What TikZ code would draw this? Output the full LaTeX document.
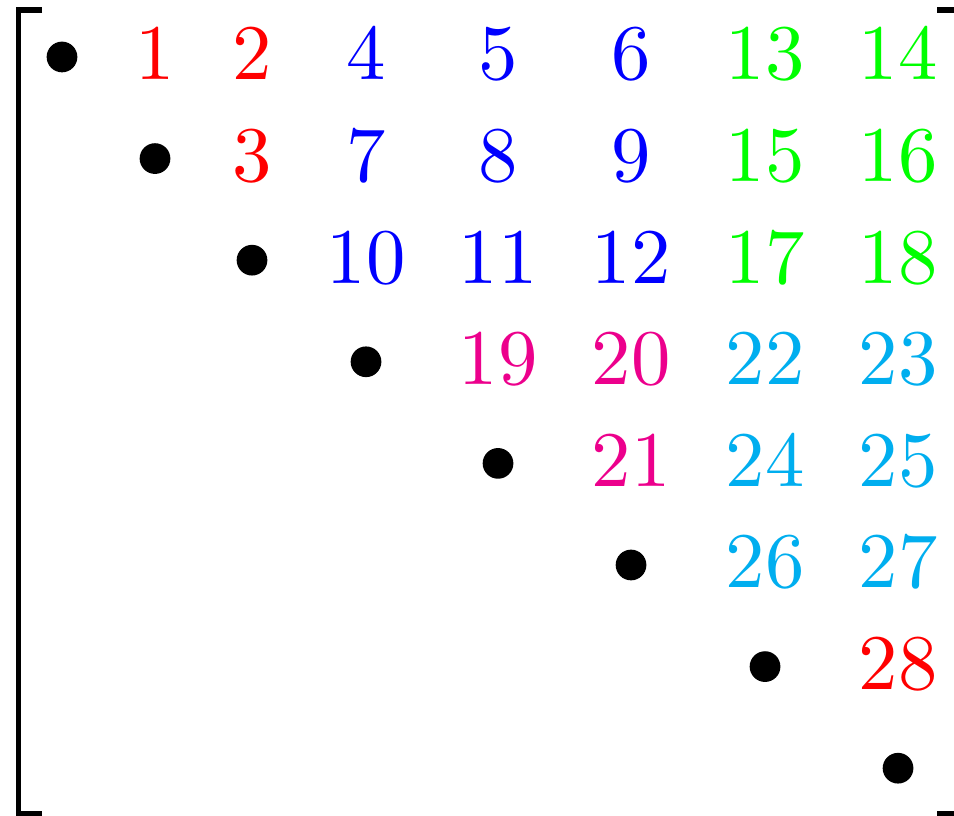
\documentclass[tikz,border=0pt]{standalone}
\usepackage{xcolor,tikz}
\definecolor{rd}{HTML}{FF0000}
\definecolor{bl}{HTML}{0000FF}
\definecolor{gr}{HTML}{00FF00}
\definecolor{pk}{HTML}{EC008C}
\definecolor{cy}{HTML}{00AEEF}

\begin{document}
\begin{tikzpicture}[x=0.127pt, y=-0.127pt, every node/.style={inner sep=0pt}, num/.style={anchor=base}, dot/.style={circle,fill=black,minimum size=3.9pt}, brk/.style={line width=0.7pt,line join=miter}]
\useasboundingbox (0,0) rectangle (954,816);
% diagonal
\node[dot] (b1) at (62,57) {};
\node[dot] (b2) at (155,158.6) {};
\node[dot] (b3) at (252,260.2) {};
\node[dot] (b4) at (366,361.8) {};
\node[dot] (b5) at (498,463.4) {};
\node[dot] (b6) at (631,565) {};
\node[dot] (b7) at (765,666.6) {};
\node[dot] (b8) at (898,768.2) {};
% row 1
\node[num,text=rd] (n1) at (155,80) {1};
\node[num,text=rd] (n2) at (252,80) {2};
\node[num,text=bl] (n4) at (366,80) {4};
\node[num,text=bl] (n5) at (498,80) {5};
\node[num,text=bl] (n6) at (631,80) {6};
\node[num,text=gr] (n13) at (765,80) {13};
\node[num,text=gr] (n14) at (898,80) {14};
% row 2
\node[num,text=rd] (n3) at (252,181.6) {3};
\node[num,text=bl] (n7) at (366,181.6) {7};
\node[num,text=bl] (n8) at (498,181.6) {8};
\node[num,text=bl] (n9) at (631,181.6) {9};
\node[num,text=gr] (n15) at (765,181.6) {15};
\node[num,text=gr] (n16) at (898,181.6) {16};
% row 3
\node[num,text=bl] (n10) at (366,283.2) {10};
\node[num,text=bl] (n11) at (498,283.2) {11};
\node[num,text=bl] (n12) at (631,283.2) {12};
\node[num,text=gr] (n17) at (765,283.2) {17};
\node[num,text=gr] (n18) at (898,283.2) {18};
% row 4
\node[num,text=pk] (n19) at (498,384.8) {19};
\node[num,text=pk] (n20) at (631,384.8) {20};
\node[num,text=cy] (n22) at (765,384.8) {22};
\node[num,text=cy] (n23) at (898,384.8) {23};
% row 5
\node[num,text=pk] (n21) at (631,486.4) {21};
\node[num,text=cy] (n24) at (765,486.4) {24};
\node[num,text=cy] (n25) at (898,486.4) {25};
% row 6
\node[num,text=cy] (n26) at (765,588) {26};
\node[num,text=cy] (n27) at (898,588) {27};
% row 7
\node[num,text=rd] (n28) at (898,689.6) {28};
% brackets
\draw[brk] (42,10) -- (18.5,10) -- (18.5,814) -- (42,814);
\draw[brk] (937,10) -- (960,10) -- (960,814) -- (937,814);
\end{tikzpicture}
\end{document}
